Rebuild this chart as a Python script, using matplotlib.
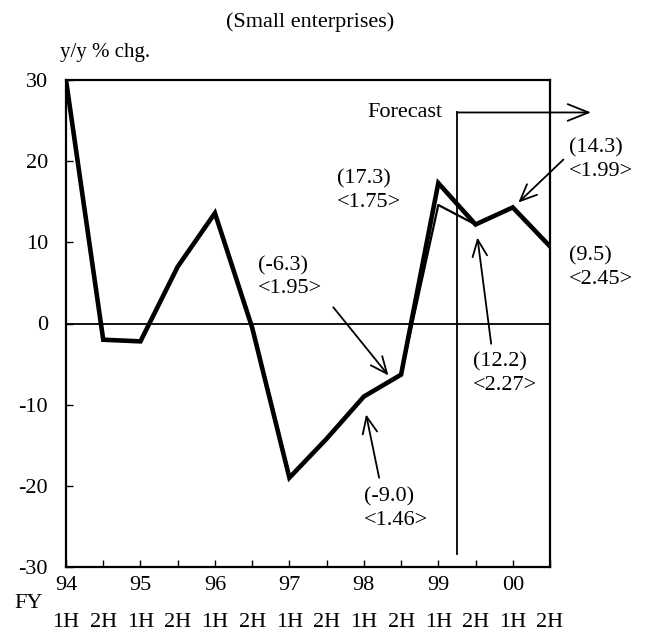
import numpy as np
import matplotlib
matplotlib.use('Agg')
import matplotlib.pyplot as plt
import matplotlib.transforms as mtransforms

plt.rcParams['font.family'] = ['Liberation Serif', 'DejaVu Serif']
plt.rcParams['font.size'] = 16
plt.rcParams['axes.unicode_minus'] = False

# -------------------------------------------------------------------
# data (y/y % chg., small enterprises)
years  = ['94', '95', '96', '97', '98', '99', '00']
halves = ['1H', '2H'] * 7
actual = [30.0, -2.0, -2.2, 7.0, 13.6, -0.5, -19.0, -14.2,
          -9.0, -6.3, 17.3, 12.2, 14.3, 9.5]
# previous forecast (thin line)
prev_x = [9, 10, 11]
prev_y = [-6.3, 14.6, 12.2]

# annotations: label, text pos, arrow tail, arrow tip
notes = [
    ('(17.3)\n<1.75>', (7.28, 16.4), None, None),
    ('(-6.3)\n<1.95>', (5.16, 5.7), (7.18, 2.0), (8.66, -6.4)),
    ('(-9.0)\n<1.46>', (8.0, -22.8), (8.41, -19.0), (8.06, -11.2)),
    ('(12.2)\n<2.27>', (10.94, -6.2), (11.42, -2.5), (11.05, 10.6)),
    ('(14.3)\n<1.99>', (13.5, 20.2), (13.36, 20.2), (12.15, 14.9)),
    ('(9.5)\n<2.45>', (13.5, 6.9), None, None),
]
fc_x = 10.5

# -------------------------------------------------------------------
fig = plt.figure(figsize=(6.49, 6.41), dpi=100)
ax = fig.add_axes([66/649, 74/641, 484/649, 487/641])

x = np.arange(len(actual))
ax.axhline(0, color='black', lw=1.3, zorder=1)
ax.plot(prev_x, prev_y, color='black', lw=1.6, zorder=2)
ax.plot(x, actual, color='black', lw=3.3, zorder=3, solid_joinstyle='miter')

ax.set_xlim(0, 13)
ax.set_ylim(-30, 30)
ax.set_yticks(np.arange(-30, 31, 10))
ax.set_xticks(x)
ax.set_xticklabels(halves)
ax.tick_params(axis='x', direction='in', length=5, width=1, pad=33)
ax.tick_params(axis='y', direction='in', length=5, width=1, pad=13)
for s in ax.spines.values():
    s.set_linewidth(1.6)

# year labels
trans = mtransforms.blended_transform_factory(ax.transData, ax.transAxes)
for i, yr in enumerate(years):
    ax.text(2 * i, -0.037, yr, transform=trans, ha='center', va='center')
fig.text(29/649, 1 - 603/641, 'FY', ha='center', va='center')

# titles
fig.text(310/649, 1 - 22/641, '(Small enterprises)', ha='center', va='center')
fig.text(60/649, 1 - 52/641, 'y/y % chg.', ha='left', va='center', fontsize=15)

# forecast marker
ax.plot([fc_x, fc_x], [-28.4, 26.0], color='black', lw=1.3, clip_on=False)
ax.annotate('', xy=(14.1, 26.0), xytext=(fc_x, 26.0), annotation_clip=False,
            arrowprops=dict(arrowstyle='->,head_length=1.0,head_width=0.4',
                            lw=1.3, color='black', shrinkA=0, shrinkB=0,
                            mutation_scale=15))
ax.text(10.1, 26.0, 'Forecast', ha='right', va='center')

for label, tpos, tail, tip in notes:
    ax.text(tpos[0], tpos[1], label, ha='left', va='center',
            linespacing=1.3, clip_on=False)
    if tail is not None:
        ax.annotate('', xy=tip, xytext=tail, annotation_clip=False,
                    arrowprops=dict(arrowstyle='->,head_length=0.8,head_width=0.35',
                                    lw=1.3, color='black', shrinkA=0, shrinkB=0,
                                    mutation_scale=15))

fig.savefig('out.png', dpi=100)
